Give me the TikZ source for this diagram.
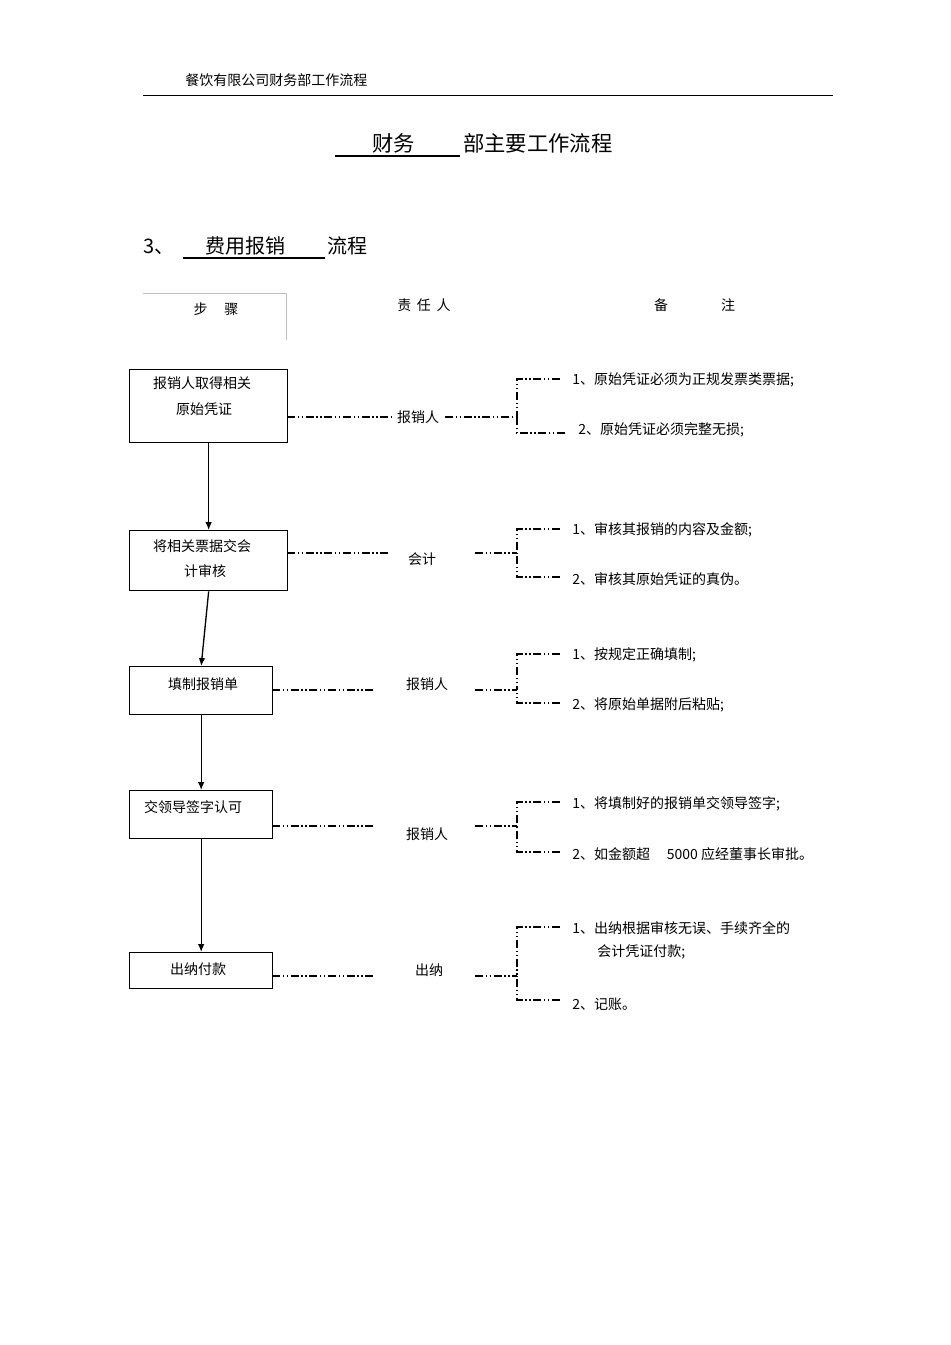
\documentclass[tikz,border=0pt]{standalone}
\usepackage{fontspec}
\usetikzlibrary{arrows.meta}
\setmainfont{Liberation Sans}
\newfontfamily\cjk{Noto Sans CJK SC}
\begin{document}
\begin{tikzpicture}[x=0.75pt,y=-0.75pt,
  box/.style={draw,line width=1pt,anchor=north west,inner sep=0pt},
  txt/.style={font=\cjk\fontsize{10.5}{12}\selectfont,inner sep=0pt},
  ddot/.style={line width=0.8pt,dash pattern=on 6pt off 2pt on 1pt off 2pt on 1pt off 2pt},
  arr/.style={-{Latex[length=6pt,width=5pt]},line width=1pt}]
\useasboundingbox (0,0) rectangle (950,1345);
\node[txt,anchor=west] (hdr) at (185,80) {餐饮有限公司财务部工作流程};
\draw[line width=0.6pt] (143,95) -- (833,95);
\node[font=\cjk\fontsize{16}{18}\selectfont,anchor=west,inner sep=0pt] (t1) at (372,143) {财务};
\node[font=\cjk\fontsize{16}{18}\selectfont,anchor=west,inner sep=0pt] (t2) at (463,143) {部主要工作流程};
\draw[line width=0.8pt] (335,156) -- (460,156);
\node[font=\cjk\fontsize{15}{18}\selectfont,anchor=west,inner sep=0pt] (s0) at (143,247) {3、};
\node[font=\cjk\fontsize{15}{18}\selectfont,anchor=west,inner sep=0pt] (s1) at (205,246) {费用报销};
\node[font=\cjk\fontsize{15}{18}\selectfont,anchor=west,inner sep=0pt] (s2) at (327,246) {流程};
\draw[line width=0.8pt] (183,258) -- (325,258);
\draw[gray!50,line width=0.5pt] (143,293) -- (286,293) -- (286,340);
\node[txt] (h1) at (216,309) {步\hspace{1.2em}骤};
\node[txt] (h2) at (424,305) {责\hspace{0.4em}任\hspace{0.4em}人};
\node[txt] (h3) at (661,305) {备};
\node[txt] (h4) at (728,305) {注};
% boxes
\node[box,minimum width=158*0.75pt,minimum height=73*0.75pt] (b1) at (129,369) {};
\node[txt] at (202,383) {报销人取得相关};
\node[txt] at (204,409) {原始凭证};
\node[box,minimum width=158*0.75pt,minimum height=60*0.75pt] (b2) at (129,530) {};
\node[txt] at (202,546) {将相关票据交会};
\node[txt] at (205,571) {计审核};
\node[box,minimum width=143*0.75pt,minimum height=48*0.75pt] (b3) at (129,666) {};
\node[txt] at (203,684) {填制报销单};
\node[box,minimum width=143*0.75pt,minimum height=48*0.75pt] (b4) at (129,790) {};
\node[txt] at (193,807) {交领导签字认可};
\node[box,minimum width=143*0.75pt,minimum height=36*0.75pt] (b5) at (129,952) {};
\node[txt] at (198,969) {出纳付款};
\draw[arr] (b1.south) -- (b2.north);
\draw[arr] (b2.south) -- (b3.north);
\draw[arr] (b3.south) -- (b4.north);
\draw[arr] (b4.south) -- (b5.north);
% rows
\newcommand\myrow[9]{%
  \node[txt] (r#1) at (#4,#5) {#6};
  \draw[ddot] (#2,#3) -- (#7,#3);
  \draw[ddot] (#8,#3) -- (517,#3);
  \draw[ddot] (560,#9) -| (517,#3);
}
\myrow{1}{287}{417}{418}{417}{报销人}{392}{445}{379}
\draw[ddot] (565,433) -| (517,417);
\myrow{2}{287}{553}{422}{559}{会计}{388}{475}{529}
\draw[ddot] (560,577) -| (517,553);
\myrow{3}{272}{690}{427}{684}{报销人}{373}{475}{654}
\draw[ddot] (560,703) -| (517,690);
\myrow{4}{272}{826}{427}{834}{报销人}{373}{475}{802}
\draw[ddot] (560,852) -| (517,826);
\myrow{5}{272}{976}{429}{970}{出纳}{373}{475}{927}
\draw[ddot] (560,1000) -| (517,976);
\begin{scope}[every node/.style={txt,anchor=west}]
\node at (572,380) {1、原始凭证必须为正规发票类票据;};
\node at (578,430) {2、原始凭证必须完整无损;};
\node at (572,530) {1、审核其报销的内容及金额;};
\node at (572,579) {2、审核其原始凭证的真伪。};
\node at (572,655) {1、按规定正确填制;};
\node at (572,705) {2、将原始单据附后粘贴;};
\node at (572,804) {1、将填制好的报销单交领导签字;};
\node at (572,854) {2、如金额超\hspace{1.2em}5000 应经董事长审批。};
\node at (572,928) {1、出纳根据审核无误、手续齐全的};
\node at (597,952) {会计凭证付款;};
\node at (572,1004) {2、记账。};
\end{scope}
\end{tikzpicture}
\end{document}
